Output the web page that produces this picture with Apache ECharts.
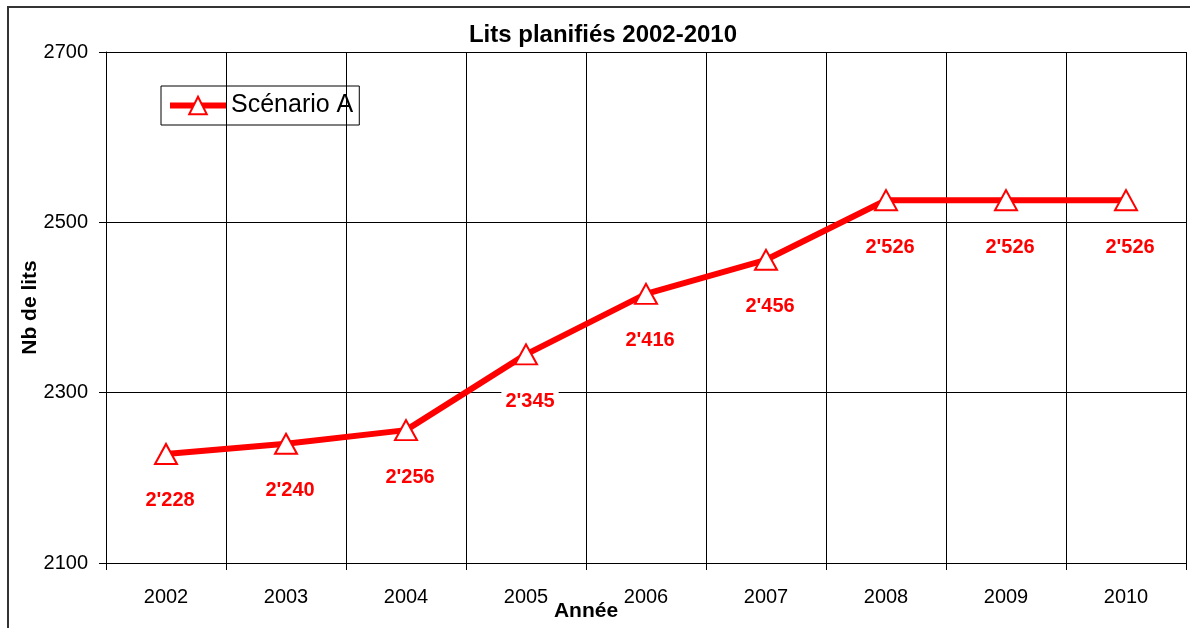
<!DOCTYPE html>
<html>
<head>
<meta charset="utf-8">
<script src="https://cdn.jsdelivr.net/npm/echarts@6/dist/echarts.min.js"></script>
<style>
  html, body { margin: 0; padding: 0; background: #fff; }
  #chart { width: 1190px; height: 628px; }
</style>
</head>
<body>
<div id="chart"></div>
<script>
// data
var years = ["2002", "2003", "2004", "2005", "2006", "2007", "2008", "2009", "2010"];
var scenarioA = [2228, 2240, 2256, 2345, 2416, 2456, 2526, 2526, 2526];
var yTicks = [2100, 2300, 2500, 2700];

var font = "Liberation Sans, Arial, sans-serif";

function fmt(v) {
    var s = String(v);
    return s.length > 3 ? s.slice(0, s.length - 3) + "'" + s.slice(-3) : s;
}

var chart = echarts.init(document.getElementById("chart"));
chart.setOption({
    backgroundColor: "#fff",
    animation: false,
    textStyle: { fontFamily: font },
    title: {
        text: "Lits planifiés 2002-2010",
        left: 598,
        textAlign: "center",
        top: 18,
        textStyle: { fontSize: 24, fontWeight: "bold", color: "#000", fontFamily: font }
    },
    legend: {
        left: 161,
        top: 86,
        padding: [7, 6, 7, 6],
        borderColor: "#000",
        borderWidth: 1,
        itemWidth: 56,
        itemHeight: 22,
        itemGap: 4,
        lineStyle: { width: 6 },
        textStyle: { fontSize: 25, color: "#000", fontFamily: font },
        data: ["Scénario A"]
    },
    grid: { left: 106, right: 4, top: 52, bottom: 65, outerBoundsMode: "none", containLabel: false },
    xAxis: {
        type: "category",
        data: years,
        boundaryGap: true,
        name: "Année",
        nameLocation: "middle",
        nameGap: 38,
        nameMoveOverlap: false,
        nameTextStyle: { fontSize: 21, fontWeight: "bold", color: "#000", fontFamily: font, padding: [0, 120, 0, 0] },
        axisLine: { lineStyle: { color: "#000", width: 1 } },
        axisTick: { show: true, length: 7, lineStyle: { color: "#000" } },
        axisLabel: { fontSize: 20, color: "#000", margin: 24, fontFamily: font },
        splitLine: { show: true, lineStyle: { color: "#000", width: 1 } }
    },
    yAxis: {
        type: "value",
        min: yTicks[0],
        max: yTicks[yTicks.length - 1],
        interval: yTicks[1] - yTicks[0],
        name: "Nb de lits",
        nameLocation: "middle",
        nameGap: 65,
        nameMoveOverlap: false,
        nameRotate: 90,
        nameTextStyle: { fontSize: 21, fontWeight: "bold", color: "#000", fontFamily: font },
        axisLine: { show: true, lineStyle: { color: "#000", width: 1 } },
        axisTick: { show: true, length: 7, lineStyle: { color: "#000" } },
        axisLabel: { fontSize: 20, color: "#000", margin: 18, fontFamily: font, formatter: function (v) { return String(v); } },
        splitLine: { show: true, lineStyle: { color: "#000", width: 1 } }
    },
    series: [{
        name: "Scénario A",
        type: "line",
        data: scenarioA,
        symbol: "triangle",
        symbolSize: [22, 20],
        showAllSymbol: true,
        lineStyle: { color: "#ff0000", width: 6 },
        itemStyle: { color: "#fff", borderColor: "#ff0000", borderWidth: 2 },
        label: {
            show: true,
            position: "bottom",
            distance: 24,
            offset: [4, 0],
            formatter: function (p) { return fmt(p.value); },
            color: "#ff0000",
            fontSize: 20,
            fontWeight: "bold",
            fontFamily: font,
            backgroundColor: "#fff",
            padding: [2, 4]
        },
        z: 5
    }],
    graphic: [{
        type: "rect",
        shape: { x: 8, y: 7, width: 1190, height: 640 },
        style: { fill: null, stroke: "#333", lineWidth: 2 },
        silent: true
    }]
});
</script>
</body>
</html>
